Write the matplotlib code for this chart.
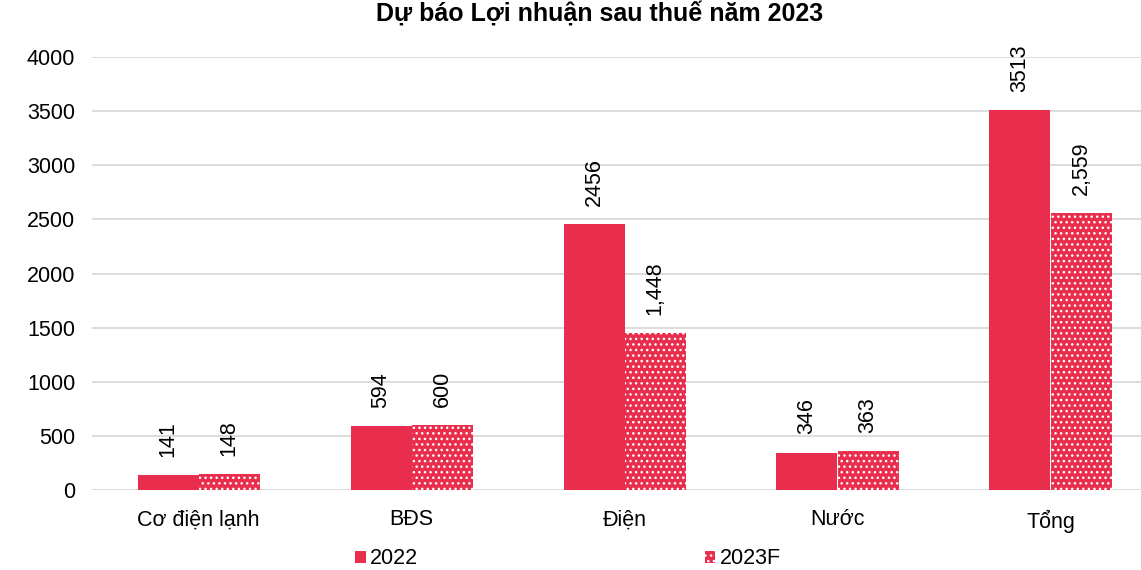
import matplotlib
matplotlib.use("Agg")
import matplotlib.pyplot as plt
import numpy as np

categories = ["Cơ điện lạnh", "BĐS", "Điện", "Nước", "Tổng"]
values_2022 = [141, 594, 2456, 346, 3513]
values_2023f = [148, 600, 1448, 363, 2559]
series_names = ["2022", "2023F"]
title = "Dự báo Lợi nhuận sau thuế năm 2023"

plt.rcParams['font.family'] = ['Liberation Sans', 'DejaVu Sans']
plt.rcParams['hatch.linewidth'] = 1.0
color = '#E92E4D'
fs = 15.5

fig = plt.figure(figsize=(11.41, 5.70), dpi=100)
ax = fig.add_axes([92/1141, 1-490/570, 1065/1141, 433/570])

x = np.arange(len(categories))
w = 61/213
ax.bar(x - w/2, values_2022, width=w, color=color, edgecolor=color, linewidth=0, label=series_names[0], zorder=3)
ax.bar(x + w/2, values_2023f, width=w, color=color, edgecolor='white', linewidth=0, hatch='...', label=series_names[1], zorder=3)

for xi, v in zip(x - w/2, values_2022):
    ax.annotate(f"{v}", (xi, v), xytext=(0, 13), textcoords='offset points', rotation=90,
                ha='center', va='bottom', fontsize=fs, color='#000000')
for xi, v in zip(x + w/2, values_2023f):
    ax.annotate(f"{v:,}", (xi, v), xytext=(0, 13), textcoords='offset points', rotation=90,
                ha='center', va='bottom', fontsize=fs, color='#000000')

ax.set_xlim(-0.5, len(categories) - 0.5)
ax.set_ylim(0, 4000)
ax.set_yticks(np.arange(0, 4001, 500))
ax.set_xticks(x)
ax.set_xticklabels(categories)
ax.tick_params(axis='both', length=0, labelsize=fs, colors='#000000')
ax.tick_params(axis='y', pad=12)
ax.tick_params(axis='x', pad=14)
ax.yaxis.grid(True, color='#D9D9D9', linewidth=1.3, zorder=0)
ax.set_axisbelow(True)
for s in ax.spines.values():
    s.set_visible(False)

fig.text(600/1141, 1-13/570, title, ha='center', va='center', fontsize=18, fontweight='bold')

fig.legend(loc='center', bbox_to_anchor=(568/1141, 1-559/570), ncol=2, frameon=False,
           fontsize=fs, handlelength=0.5, handleheight=0.5, handletextpad=0.2,
           columnspacing=13.3)

fig.savefig("out.png", dpi=100)
